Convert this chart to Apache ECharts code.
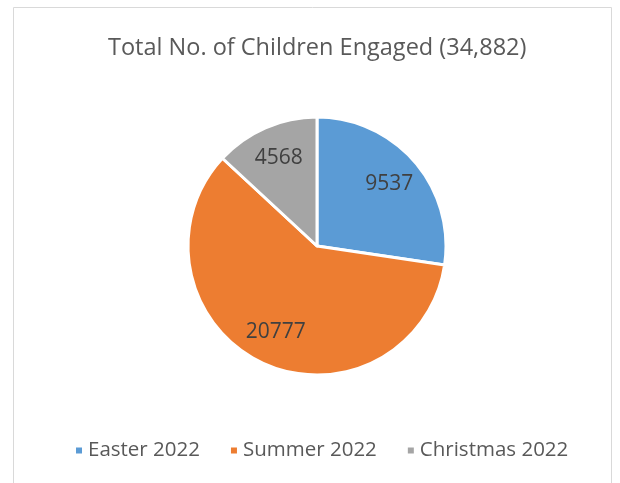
<!DOCTYPE html>
<html><head><meta charset="utf-8">
<script src="https://cdn.jsdelivr.net/npm/echarts@6/dist/echarts.min.js"></script>
<style>html,body{margin:0;padding:0;background:#fff}#c{width:620px;height:483px}</style>
</head><body><div id="c"></div>
<script>
const categories = ['Easter 2022', 'Summer 2022', 'Christmas 2022'];
const values = [9537, 20777, 4568];
const colors = ['#5B9BD5', '#ED7D31', '#A5A5A5'];
const titleText = 'Total No. of Children Engaged (34,882)';

const chart = echarts.init(document.getElementById('c'), null, {renderer: 'canvas'});
const data = categories.map((n, i) => ({name: n, value: values[i], itemStyle: {color: colors[i]}}));
const font = 'Open Sans';
chart.setOption({
  animation: false,
  color: colors,
  graphic: [{type: 'rect', shape: {x: 13.5, y: 7.5, width: 598, height: 480}, style: {fill: 'none', stroke: '#D9D9D9', lineWidth: 1}, silent: true}],
  title: {text: titleText, left: 103, top: 31, textStyle: {fontFamily: font, fontSize: 23.5, fontWeight: 'normal', color: '#595959'}},
  legend: {bottom: 17, left: 69, itemWidth: 8, itemHeight: 8, itemGap: 29, icon: 'rect',
    textStyle: {fontFamily: font, fontSize: 20.5, color: '#595959'}, data: categories},
  series: [{
    type: 'pie', center: [317, 246], radius: 129, startAngle: 90, clockwise: true,
    data: data, label: {show: false}, labelLine: {show: false},
    itemStyle: {borderColor: '#fff', borderWidth: 3}
  }, {
    type: 'pie', center: [317, 246], radius: [56, 129], startAngle: 90, clockwise: true, silent: true,
    data: categories.map((n, i) => ({name: n, value: values[i], itemStyle: {color: 'rgba(0,0,0,0)'}})),
    itemStyle: {borderWidth: 0},
    label: {show: true, position: 'inside', formatter: '{c}', fontFamily: font, fontSize: 21, color: '#404040'},
    labelLine: {show: false}, emphasis: {disabled: true}
  }]
});
</script></body></html>
